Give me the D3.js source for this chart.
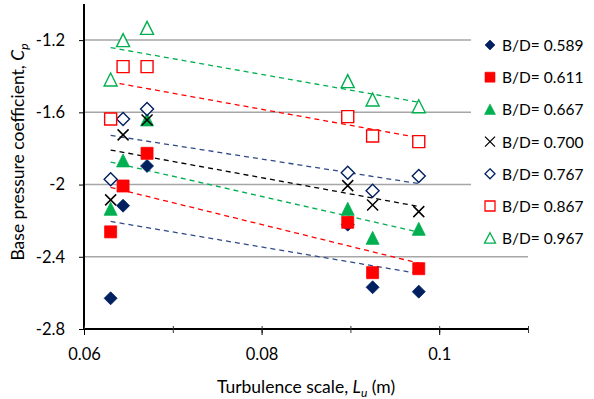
<!DOCTYPE html>
<html>
<head>
<meta charset="utf-8">
<script src="https://cdn.jsdelivr.net/npm/d3@7"></script>
<style>
  body { margin: 0; background: #fff; }
  svg { font-family: Lato, "Open Sans", sans-serif; }
</style>
</head>
<body>
<div id="chart"></div>
<script>
// turbulence scale Lu (m), same six positions for every series
const lu = [0.063, 0.0644, 0.0671, 0.0897, 0.0925, 0.0977];

const bd589 = [-2.630, -2.117, -1.897, -2.222, -2.569, -2.593];
const bd611 = [-2.262, -2.008, -1.827, -2.209, -2.488, -2.466];
const bd667 = [-2.137, -1.869, -1.642, -2.137, -2.298, -2.248];
const bd700 = [-2.085, -1.725, -1.642, -2.006, -2.113, -2.150];
const bd767 = [-1.971, -1.637, -1.581, -1.934, -2.034, -1.952];
const bd867 = [-1.637, -1.347, -1.347, -1.624, -1.731, -1.762];
const bd967 = [-1.421, -1.203, -1.135, -1.430, -1.532, -1.569];

const seriesNames = ['B/D= 0.589', 'B/D= 0.611', 'B/D= 0.667', 'B/D= 0.700', 'B/D= 0.767', 'B/D= 0.867', 'B/D= 0.967'];
const yTicks = [-1.2, -1.6, -2, -2.4, -2.8];
const xTicks = [0.06, 0.08, 0.1];

const navy = '#002060', red = '#ff0000', green = '#00b050';
const styles = [
  {shape: 'diamond', fill: navy, stroke: navy, line: '#2f4a86'},
  {shape: 'square', fill: red, stroke: red, line: red},
  {shape: 'triangle', fill: green, stroke: green, line: green},
  {shape: 'cross', fill: 'none', stroke: '#000', line: '#000'},
  {shape: 'diamond', fill: '#fff', stroke: navy, line: '#2f4a86'},
  {shape: 'square', fill: '#fff', stroke: red, line: red},
  {shape: 'triangle', fill: '#fff', stroke: green, line: green}
];
const values = [bd589, bd611, bd667, bd700, bd767, bd867, bd967];

const margin = {top: 4, right: 66, bottom: 70, left: 84};
const W = 594, H = 399;
const width = W - margin.left - margin.right;
const height = H - margin.top - margin.bottom;

const x = d3.scaleLinear().domain([0.06, 0.11]).range([0, width]);
const y = d3.scaleLinear().domain([-2.8, -1.0]).range([height, 0]);
const fmt = d => String(d);

const svg = d3.select('#chart').append('svg')
  .attr('width', W)
  .attr('height', H);
const g = svg.append('g')
  .attr('transform', 'translate(' + margin.left + ',' + margin.top + ')');

// gridlines
g.append('g')
  .selectAll('line')
  .data(yTicks.filter(d => d > -2.8))
  .enter().append('line')
  .attr('x1', 0).attr('x2', width)
  .attr('y1', d => y(d)).attr('y2', d => y(d))
  .attr('stroke', '#a6a6a6')
  .attr('stroke-width', 1.5);

function markerPath(shape) {
  if (shape === 'diamond') return 'M0,-6.5L6.5,0L0,6.5L-6.5,0Z';
  if (shape === 'square') return 'M-6,-6H6V6H-6Z';
  if (shape === 'triangle') return 'M0,-7L6.5,6L-6.5,6Z';
  return 'M-5.5,-5.5L5.5,5.5M5.5,-5.5L-5.5,5.5';
}
function smallPath(shape) {
  if (shape === 'diamond') return 'M0,-5L5,0L0,5L-5,0Z';
  if (shape === 'square') return 'M-5,-5H5V5H-5Z';
  if (shape === 'triangle') return 'M0,-5.5L5.5,5L-5.5,5Z';
  return 'M-5,-5L5,5M5,-5L-5,5';
}

// linear trendlines
values.forEach((vals, i) => {
  const mx = d3.mean(lu), my = d3.mean(vals);
  let sxy = 0, sxx = 0;
  lu.forEach((xv, j) => { sxy += (xv - mx) * (vals[j] - my); sxx += (xv - mx) * (xv - mx); });
  const slope = sxy / sxx;
  const x0 = d3.min(lu), x1 = d3.max(lu);
  g.append('line')
    .attr('x1', x(x0)).attr('y1', y(my + slope * (x0 - mx)))
    .attr('x2', x(x1)).attr('y2', y(my + slope * (x1 - mx)))
    .attr('stroke', styles[i].line)
    .attr('stroke-width', 1.3)
    .attr('stroke-dasharray', '5,4');
});

// markers
values.forEach((vals, i) => {
  const s = styles[i];
  g.append('g')
    .selectAll('path')
    .data(vals.map((v, j) => ({x: lu[j], y: v})))
    .enter().append('path')
    .attr('d', markerPath(s.shape))
    .attr('transform', d => 'translate(' + x(d.x) + ',' + y(d.y) + ')')
    .attr('fill', s.fill)
    .attr('stroke', s.stroke)
    .attr('stroke-width', s.shape === 'cross' ? 1.5 : (s.fill === '#fff' ? 1.4 : 0.8));
});

// legend (white box over plot area)
const legend = svg.append('g').attr('transform', 'translate(471,20)');
legend.append('rect').attr('width', 123).attr('height', 232).attr('fill', '#fff');
seriesNames.forEach((name, i) => {
  const row = legend.append('g').attr('transform', 'translate(0,' + (25 + i * 32.2) + ')');
  const s = styles[i];
  row.append('path')
    .attr('d', smallPath(s.shape))
    .attr('transform', 'translate(19,0)')
    .attr('fill', s.fill)
    .attr('stroke', s.stroke)
    .attr('stroke-width', s.shape === 'cross' ? 1.3 : (s.fill === '#fff' ? 1.3 : 0.6));
  row.append('text')
    .text(name)
    .attr('x', 31)
    .attr('y', 6)
    .attr('font-size', 15.5)
    .attr('fill', '#000');
});

// y axis
g.append('g')
  .call(d3.axisLeft(y).tickValues(yTicks).tickSize(5).tickPadding(14).tickFormat(fmt))
  .call(a => a.select('.domain').attr('stroke-width', 2).attr('d', 'M0,0V' + height))
  .call(a => a.selectAll('text').attr('font-size', 16.5).attr('font-family', 'Lato, sans-serif').attr('fill', '#000'));

// x axis
g.append('g')
  .attr('transform', 'translate(0,' + height + ')')
  .call(d3.axisBottom(x).tickValues(d3.range(0.06, 0.1101, 0.01)).tickSize(0).tickFormat(''))
  .call(a => a.select('.domain').attr('stroke-width', 2).attr('d', 'M0,0H' + width))
  .call(a => a.selectAll('.tick line').attr('y1', -3).attr('y2', 4).attr('stroke', '#333'));
g.append('g')
  .attr('transform', 'translate(0,' + height + ')')
  .call(d3.axisBottom(x).tickValues(xTicks).tickSize(6).tickPadding(13).tickFormat(fmt))
  .call(a => a.select('.domain').remove())
  .call(a => a.selectAll('text').attr('font-size', 16.5).attr('font-family', 'Lato, sans-serif').attr('fill', '#000'));

// axis titles
const xt = svg.append('text')
  .attr('x', 306)
  .attr('y', 393)
  .attr('text-anchor', 'middle')
  .attr('font-size', 17.5);
xt.append('tspan').text('Turbulence scale, ');
xt.append('tspan').text('L').attr('font-style', 'italic');
xt.append('tspan').text('u').attr('font-style', 'italic').attr('font-size', 12).attr('dy', 4);
xt.append('tspan').text(' (m)').attr('dy', -4);

const yt = svg.append('text')
  .attr('transform', 'translate(24,152) rotate(-90)')
  .attr('text-anchor', 'middle')
  .attr('font-size', 17.5);
yt.append('tspan').text('Base pressure coefficient, ');
yt.append('tspan').text('C').attr('font-style', 'italic');
yt.append('tspan').text('p').attr('font-style', 'italic').attr('font-size', 12).attr('dy', 4);
</script>
</body>
</html>
